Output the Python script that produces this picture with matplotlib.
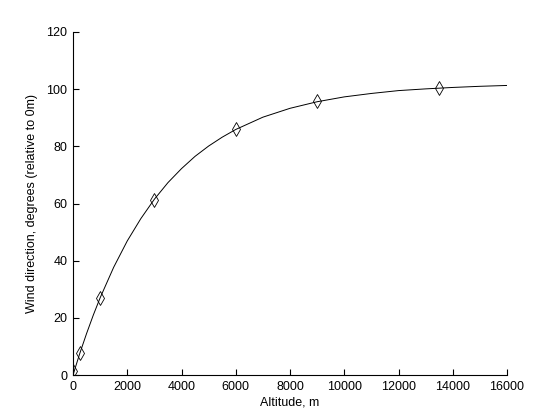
import matplotlib
matplotlib.use("Agg")
import matplotlib.pyplot as plt

# measured points
alt_pts = [0, 250, 1000, 3000, 6000, 9000, 13500]
dir_pts = [1.4, 7.7, 27.0, 61.3, 86.0, 95.8, 100.4]

# fitted curve
alt_curve = [0, 250, 500, 750, 1000, 1500, 2000, 2500, 3000, 3500, 4000, 4500,
             5000, 5500, 6000, 7000, 8000, 9000, 10000, 11000, 12000, 13000,
             14000, 15000, 16000]
dir_curve = [0.0, 7.55, 14.5, 21.0, 27.0, 37.7, 46.9, 54.7, 61.5, 67.3, 72.2, 76.5,
             80.1, 83.2, 85.9, 90.2, 93.3, 95.6, 97.3, 98.5, 99.5, 100.1,
             100.6, 101.0, 101.3]

xticks = [0, 2000, 4000, 6000, 8000, 10000, 12000, 14000, 16000]
yticks = [0, 20, 40, 60, 80, 100, 120]

plt.rcParams['font.family'] = ['Liberation Sans', 'DejaVu Sans']

fig = plt.figure(figsize=(5.6, 4.2), dpi=100)
ax = fig.add_axes([73/560, 45/420, 434/560, 343/420])

ax.plot(alt_curve, dir_curve, color='black', linewidth=0.7)
ax.plot(alt_pts, dir_pts, linestyle='none', marker='d', markersize=7,
        markerfacecolor='none', markeredgecolor='black', markeredgewidth=0.6)

ax.set_xlim(0, 16000)
ax.set_ylim(0, 120)
ax.set_xticks(xticks)
ax.set_yticks(yticks)
ax.set_xticklabels([str(v) for v in xticks])
ax.set_yticklabels([str(v) for v in yticks])
ax.tick_params(direction='in', length=4, width=0.8, labelsize=9, pad=4)
for s in ['top', 'right']:
    ax.spines[s].set_visible(False)
for s in ['left', 'bottom']:
    ax.spines[s].set_linewidth(0.8)

ax.set_xlabel('Altitude, m', fontsize=9, labelpad=3)
ax.set_ylabel('Wind direction, degrees (relative to 0m)', fontsize=9, labelpad=6)

fig.savefig('out.png', dpi=100)
